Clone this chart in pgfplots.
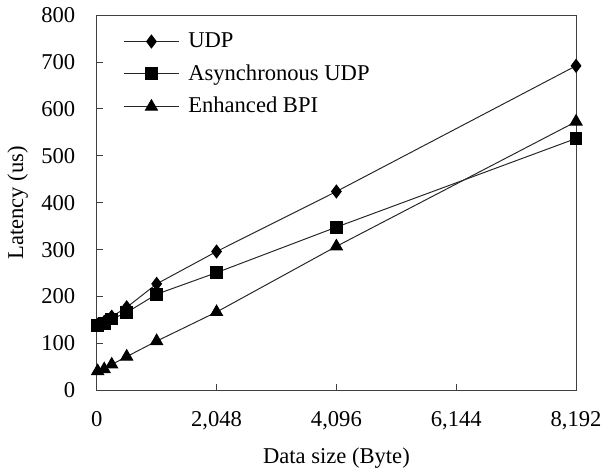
\documentclass[border=0pt]{standalone}
\usepackage{pgfplots}
\pgfplotsset{compat=1.18}
\usepackage{fontspec}
\setmainfont{Liberation Serif}

\begin{document}
\fontsize{23}{26}\selectfont
\begin{tikzpicture}
\begin{axis}[
  scale only axis,
  width=488pt, height=382pt,
  xmin=0, xmax=8192, ymin=0, ymax=800,
  xtick={0,2048,4096,6144,8192},
  xticklabels={0,{2,048},{4,096},{6,144},{8,192}},
  ytick={0,100,...,800},
  tick align=inside,
  major tick length=6pt,
  xtick pos=bottom, ytick pos=left,
  axis line style={line width=1.1pt, black!75},
  tick style={line width=1.1pt, black!75},
  /pgf/number format/assume math mode=true,
  xticklabel style={yshift=-14pt},
  yticklabel style={xshift=-14pt},
  xlabel={Data size (Byte)},
  ylabel={Latency (us)},
  xlabel style={yshift=-2pt},
  ylabel style={yshift=-2pt},
  every axis plot/.append style={line width=1pt, black!85},
  legend style={draw=none, fill=none, at={(0.05,0.965)}, anchor=north west,
    row sep=10pt, font=\fontsize{23}{26}\selectfont},
  legend cell align=left,
  legend image code/.code={
    \draw[#1] (0cm,0cm) -- (1.95cm,0cm);
    \draw[#1, only marks] plot coordinates {(0.97cm,0cm)};
    \path (2.2cm,0cm);
  },
]
\addplot[mark=diamond*, mark size=6.5pt, mark options={fill=black, draw=black}] coordinates {
  (16,140) (128,146) (256,157) (512,177) (1024,227) (2048,296) (4096,424) (8192,692)
};
\addplot[mark=square*, mark size=6pt, mark options={fill=black, draw=black}] coordinates {
  (16,138) (128,143) (256,152) (512,166) (1024,205) (2048,251) (4096,348) (8192,537)
};
\addplot[mark=triangle*, mark size=7pt, mark options={fill=black, draw=black}] coordinates {
  (16,41) (128,45) (256,55) (512,72) (1024,105) (2048,167) (4096,307) (8192,573)
};
\legend{UDP, Asynchronous UDP, Enhanced BPI}
\end{axis}
\end{tikzpicture}
\end{document}
